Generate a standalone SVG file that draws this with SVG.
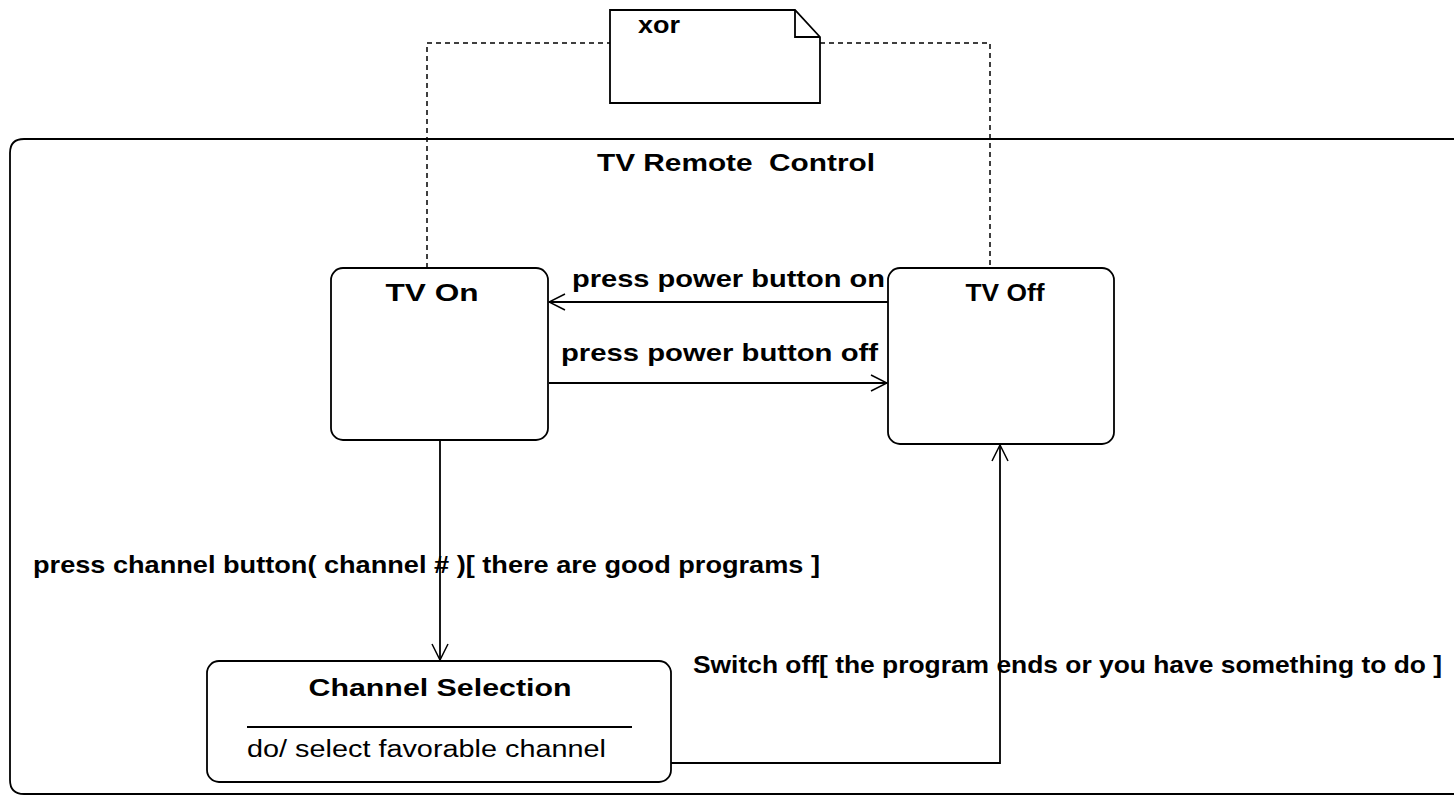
<svg xmlns="http://www.w3.org/2000/svg" width="1454" height="796" viewBox="0 0 1454 796">
  <style>
    .box { fill: #fff; stroke: #000; stroke-width: 1.8; }
    .line { fill: none; stroke: #000; stroke-width: 1.8; }
    .dash { fill: none; stroke: #000; stroke-width: 1.5; stroke-dasharray: 5 4; }
    .t { font-family: "Liberation Sans", Arial, sans-serif; font-weight: bold; font-size: 24px; fill: #000; white-space: pre; }
    .r { font-family: "Liberation Sans", Arial, sans-serif; font-size: 23px; fill: #000; }
  </style>
  <defs>
    <marker id="open" viewBox="0 0 18 18" refX="17" refY="9" markerWidth="18" markerHeight="18" markerUnits="userSpaceOnUse" orient="auto">
      <path d="M1,1 L17,9 L1,17" fill="none" stroke="#000" stroke-width="1.5"/>
    </marker>
  </defs>
  <rect width="1454" height="796" fill="#fff"/>

  <!-- composite state -->
  <g id="tv-remote-control">
    <path class="line" d="M1470,139 H24 Q10,139 10,153 V780 Q10,794 24,794 H1470"/>
    <text class="t" x="736" y="171" font-size="26" text-anchor="middle" textLength="278" lengthAdjust="spacingAndGlyphs">TV Remote  Control</text>
  </g>

  <!-- connectors -->
  <g id="connectors">
    <!-- note anchors -->
    <path class="dash" d="M427,268 V43 H610"/>
    <path class="dash" d="M820,43 H990 V268"/>
    <!-- power on -->
    <path class="line" d="M888,302 H549" marker-end="url(#open)"/>
    <text class="t" x="572" y="287" textLength="313" lengthAdjust="spacingAndGlyphs">press power button on</text>
    <!-- power off -->
    <path class="line" d="M549,383 H887" marker-end="url(#open)"/>
    <text class="t" x="561" y="361" textLength="317" lengthAdjust="spacingAndGlyphs">press power button off</text>
    <!-- channel select -->
    <path class="line" d="M440,440 V660" marker-end="url(#open)"/>
    <text class="t" x="33" y="573" textLength="787" lengthAdjust="spacingAndGlyphs">press channel button( channel # )[ there are good programs ]</text>
    <!-- switch off -->
    <path class="line" d="M671,763 H1000 V445" marker-end="url(#open)"/>
    <text class="t" x="693" y="673" textLength="749" lengthAdjust="spacingAndGlyphs">Switch off[ the program ends or you have something to do ]</text>
  </g>

  <!-- note -->
  <g id="note-xor">
    <path class="box" d="M610,10 H795 L820,37 V103 H610 Z"/>
    <path class="line" d="M795,10 V37 H820"/>
    <text class="t" x="638" y="33" font-size="22" textLength="42" lengthAdjust="spacingAndGlyphs">xor</text>
  </g>

  <g id="tv-on">
    <rect class="box" x="331" y="268" width="217" height="172" rx="12"/>
    <text class="t" x="432" y="301" font-size="25" text-anchor="middle" textLength="93" lengthAdjust="spacingAndGlyphs">TV On</text>
  </g>

  <g id="tv-off">
    <rect class="box" x="888" y="268" width="226" height="176" rx="12"/>
    <text class="t" x="1005" y="301" font-size="25" text-anchor="middle" textLength="79" lengthAdjust="spacingAndGlyphs">TV Off</text>
  </g>

  <g id="channel-selection">
    <rect class="box" x="207" y="661" width="464" height="121" rx="12"/>
    <text class="t" x="440" y="696" font-size="25" text-anchor="middle" textLength="263" lengthAdjust="spacingAndGlyphs">Channel Selection</text>
    <line class="line" x1="247" y1="727" x2="632" y2="727"/>
    <text class="r" x="247" y="757" textLength="359" lengthAdjust="spacingAndGlyphs">do/ select favorable channel</text>
  </g>
</svg>
